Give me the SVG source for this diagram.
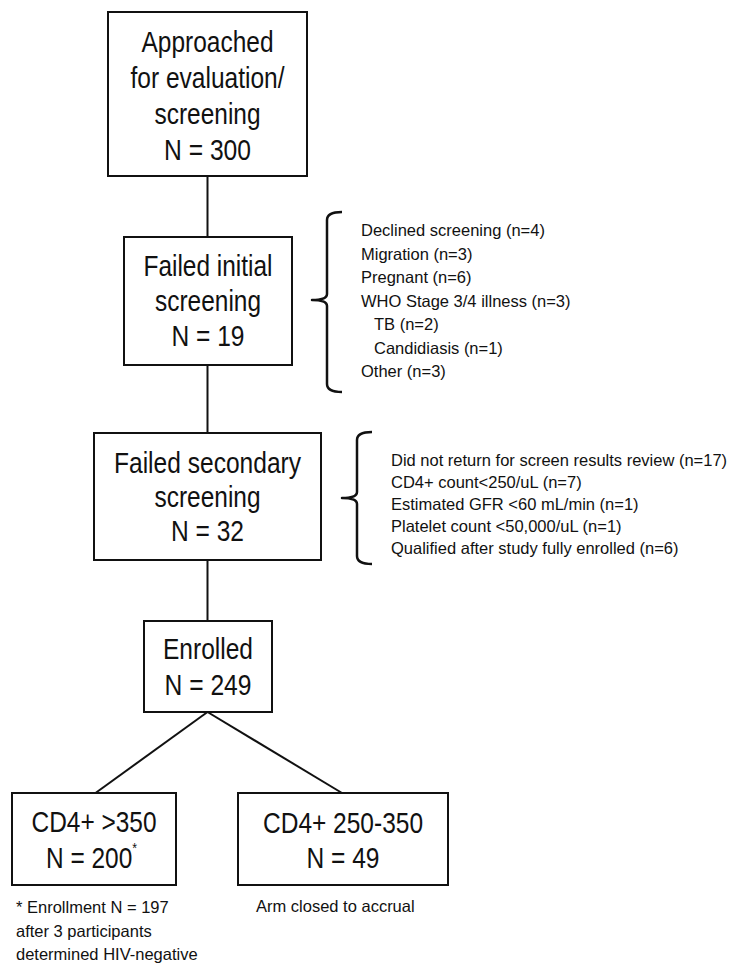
<svg xmlns="http://www.w3.org/2000/svg" width="729" height="965" viewBox="0 0 729 965">
<style>
.box{fill:#fff;stroke:#111;stroke-width:2}
.bt{font-family:"Liberation Sans",Arial,sans-serif;font-size:30px;fill:#111;text-anchor:middle}
.lt{font-family:"Liberation Sans",Arial,sans-serif;font-size:16.5px;fill:#111}
.ln{fill:none;stroke:#111;stroke-width:2}
.br{fill:none;stroke:#111;stroke-width:2.5;stroke-linejoin:round}
</style>
<rect width="729" height="965" fill="#fff"/>
<g id="connectors">
<line class="ln" x1="207.5" y1="176" x2="207.5" y2="237"/>
<line class="ln" x1="207.5" y1="365" x2="207.5" y2="433"/>
<line class="ln" x1="207.5" y1="560" x2="207.5" y2="621"/>
<line class="ln" x1="207.5" y1="712" x2="95.5" y2="793"/>
<line class="ln" x1="207.5" y1="712" x2="342" y2="793"/>
</g>
<g id="n1">
<rect class="box" x="108" y="12" width="199" height="164"/>
<text class="bt" x="207.5" y="52" textLength="132" lengthAdjust="spacingAndGlyphs">Approached</text>
<text class="bt" x="207.5" y="88" textLength="154" lengthAdjust="spacingAndGlyphs">for evaluation/</text>
<text class="bt" x="207.5" y="124" textLength="106" lengthAdjust="spacingAndGlyphs">screening</text>
<text class="bt" x="207.5" y="160" textLength="87" lengthAdjust="spacingAndGlyphs">N = 300</text>
</g>
<g id="n2">
<rect class="box" x="124" y="237" width="168" height="128"/>
<text class="bt" x="208" y="276" textLength="129" lengthAdjust="spacingAndGlyphs">Failed initial</text>
<text class="bt" x="208" y="311" textLength="106" lengthAdjust="spacingAndGlyphs">screening</text>
<text class="bt" x="208" y="346" textLength="73" lengthAdjust="spacingAndGlyphs">N = 19</text>
</g>
<g id="brace1">
<path class="br" d="M342,212 Q327,212 327,220 L327,294 Q327,300 312,300 Q327,300 327,306 L327,384 Q327,392 342,392"/>
<text class="lt" x="361" y="236">Declined screening (n=4)</text>
<text class="lt" x="361" y="259.5">Migration (n=3)</text>
<text class="lt" x="361" y="283">Pregnant (n=6)</text>
<text class="lt" x="361" y="306.5">WHO Stage 3/4 illness (n=3)</text>
<text class="lt" x="374" y="330">TB (n=2)</text>
<text class="lt" x="374" y="353.5">Candidiasis (n=1)</text>
<text class="lt" x="361" y="377">Other (n=3)</text>
</g>
<g id="n3">
<rect class="box" x="94" y="433" width="227" height="127"/>
<text class="bt" x="207.5" y="473" textLength="187" lengthAdjust="spacingAndGlyphs">Failed secondary</text>
<text class="bt" x="207.5" y="507" textLength="106" lengthAdjust="spacingAndGlyphs">screening</text>
<text class="bt" x="207.5" y="541" textLength="73" lengthAdjust="spacingAndGlyphs">N = 32</text>
</g>
<g id="brace2">
<path class="br" d="M372,432 Q357,432 357,440 L357,492 Q357,498 342,498 Q357,498 357,504 L357,556 Q357,564 372,564"/>
<text class="lt" x="391" y="466">Did not return for screen results review (n=17)</text>
<text class="lt" x="391" y="488">CD4+ count&lt;250/uL (n=7)</text>
<text class="lt" x="391" y="510">Estimated GFR &lt;60 mL/min (n=1)</text>
<text class="lt" x="391" y="532">Platelet count &lt;50,000/uL (n=1)</text>
<text class="lt" x="391" y="554">Qualified after study fully enrolled (n=6)</text>
</g>
<g id="n4">
<rect class="box" x="144" y="621" width="128" height="91"/>
<text class="bt" x="208" y="659" textLength="90" lengthAdjust="spacingAndGlyphs">Enrolled</text>
<text class="bt" x="208" y="695" textLength="87" lengthAdjust="spacingAndGlyphs">N = 249</text>
</g>
<g id="n5">
<rect class="box" x="12" y="793" width="164" height="92"/>
<text class="bt" x="94" y="832" textLength="125" lengthAdjust="spacingAndGlyphs">CD4+ &gt;350</text>
<text class="bt" x="91.5" y="868" textLength="91" lengthAdjust="spacingAndGlyphs">N = 200<tspan font-size="15" dy="-15">*</tspan></text>
<text class="lt" x="16" y="913">* Enrollment N = 197</text>
<text class="lt" x="16" y="937">after 3 participants</text>
<text class="lt" x="16" y="960">determined HIV-negative</text>
</g>
<g id="n6">
<rect class="box" x="238" y="793" width="210" height="92"/>
<text class="bt" x="343" y="833" textLength="160" lengthAdjust="spacingAndGlyphs">CD4+ 250-350</text>
<text class="bt" x="343" y="868" textLength="73" lengthAdjust="spacingAndGlyphs">N = 49</text>
<text class="lt" x="256" y="912">Arm closed to accrual</text>
</g>
</svg>
